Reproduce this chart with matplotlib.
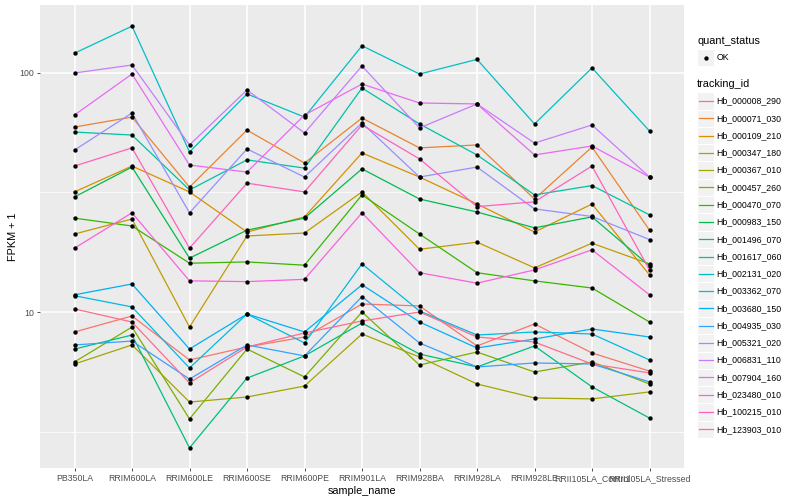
import matplotlib
matplotlib.use('Agg')
import matplotlib.pyplot as plt
from matplotlib.patches import Rectangle
from matplotlib.ticker import NullFormatter

plt.rcParams['font.family'] = ['Liberation Sans', 'DejaVu Sans']

# --- dados (FPKM + 1) ---
samples = ['PB350LA', 'RRIM600LA', 'RRIM600LE', 'RRIM600SE', 'RRIM600PE',
           'RRIM901LA', 'RRIM928BA', 'RRIM928LA', 'RRIM928LE',
           'RRII105LA_Control', 'RRII105LA_Stressed']

tracking_ids = ['Hb_000008_290', 'Hb_000071_030', 'Hb_000109_210', 'Hb_000347_180',
                'Hb_000367_010', 'Hb_000457_260', 'Hb_000470_070', 'Hb_000983_150',
                'Hb_001496_070', 'Hb_001617_060', 'Hb_002131_020', 'Hb_003362_070',
                'Hb_003680_150', 'Hb_004935_030', 'Hb_005321_020', 'Hb_006831_110',
                'Hb_007904_160', 'Hb_023480_010', 'Hb_100215_010', 'Hb_123903_010']

hb_000008_290 = [8.25, 9.62, 6.30, 7.14, 7.86, 10.8, 10.6, 7.21, 8.91, 6.74, 5.66]
hb_000071_030 = [59.4, 65.4, 33.3, 57.7, 42.0, 64.8, 48.6, 50.0, 29.7, 49.0, 22.0]
hb_000109_210 = [31.8, 40.8, 31.8, 21.6, 25.0, 46.3, 36.7, 28.3, 21.6, 28.3, 14.3]
hb_000347_180 = [21.2, 24.5, 8.65, 20.8, 21.4, 31.8, 18.3, 19.6, 15.3, 19.4, 15.9]
hb_000367_010 = [6.06, 7.28, 4.20, 4.41, 4.90, 8.09, 6.48, 5.00, 4.37, 4.33, 4.63]
hb_000457_260 = [6.18, 8.65, 3.57, 7.00, 5.35, 10.0, 6.00, 6.80, 5.61, 6.18, 5.00]
hb_000470_070 = [24.7, 22.9, 16.0, 16.2, 15.7, 30.9, 21.2, 14.6, 13.5, 12.6, 9.08]
hb_000983_150 = [30.3, 40.4, 16.8, 22.0, 24.7, 39.7, 29.7, 26.2, 22.5, 25.0, 15.6]
hb_001496_070 = [7.00, 8.01, 2.70, 5.29, 6.55, 8.99, 6.67, 5.89, 7.21, 4.86, 3.60]
hb_001617_060 = [56.6, 55.0, 32.4, 43.3, 40.0, 86.5, 61.2, 45.4, 30.9, 33.8, 25.5]
hb_002131_020 = [121, 157, 46.7, 81.7, 65.4, 130, 99.0, 114, 61.2, 105, 57.2]
hb_003362_070 = [11.7, 10.5, 5.83, 9.81, 7.42, 15.9, 10.1, 8.01, 8.25, 8.09, 6.30]
hb_003680_150 = [11.8, 13.1, 7.00, 9.81, 8.25, 13.0, 9.08, 7.07, 7.71, 8.49, 7.86]
hb_004935_030 = [7.28, 7.56, 5.24, 7.28, 6.55, 11.6, 7.42, 5.89, 6.12, 6.06, 5.10]
hb_005321_020 = [47.6, 68.0, 26.0, 48.1, 36.7, 61.8, 36.7, 40.4, 27.0, 25.1, 20.1]
hb_006831_110 = [100, 108, 50.0, 84.9, 56.1, 107, 58.9, 74.2, 50.9, 60.6, 36.7]
hb_007904_160 = [66.7, 99.0, 41.2, 38.5, 66.7, 89.9, 74.9, 74.2, 45.4, 49.5, 36.7]
hb_023480_010 = [18.5, 26.0, 13.5, 13.4, 13.7, 26.0, 14.6, 13.2, 15.0, 18.2, 11.8]
hb_100215_010 = [40.8, 48.6, 18.5, 34.6, 31.8, 60.6, 43.7, 27.6, 28.9, 40.8, 15.0]
hb_123903_010 = [10.3, 9.08, 5.05, 7.14, 8.17, 9.17, 10.0, 7.86, 7.49, 6.06, 5.56]

series = [hb_000008_290, hb_000071_030, hb_000109_210, hb_000347_180, hb_000367_010,
          hb_000457_260, hb_000470_070, hb_000983_150, hb_001496_070, hb_001617_060,
          hb_002131_020, hb_003362_070, hb_003680_150, hb_004935_030, hb_005321_020,
          hb_006831_110, hb_007904_160, hb_023480_010, hb_100215_010, hb_123903_010]

# paleta hue do ggplot (20 niveis)
cores = ['#F8766D', '#EA8331', '#D89000', '#C09B00', '#A3A500', '#7CAE00', '#39B600',
         '#00BB4E', '#00BF7D', '#00C1A3', '#00BFC4', '#00BAE0', '#00B0F6', '#35A2FF',
         '#9590FF', '#C77CFF', '#E76BF3', '#FA62DB', '#FF62BC', '#FF6C91']

# --- grafico ---
fig = plt.figure(figsize=(8, 5), dpi=100)
ax = fig.add_axes([40 / 800, 32 / 500, 644 / 800, 463 / 500])
ax.set_facecolor('#EBEBEB')
ax.set_yscale('log')

x = range(len(samples))
for vals, cor in zip(series, cores):
    ax.plot(x, vals, color=cor, lw=0.9, zorder=2)
for vals in series:
    ax.scatter(x, vals, s=10, color='black', zorder=3, linewidths=0)

ax.set_xlim(-0.6, len(samples) - 0.4)
ax.set_ylim(2.225, 192.5)
ax.set_xticks(list(x))
ax.set_xticklabels(samples)
ax.set_yticks([10, 100])
ax.set_yticklabels(['10', '100'])
ax.set_yticks([10 ** 0.5, 10 ** 1.5], minor=True)
ax.yaxis.set_minor_formatter(NullFormatter())

for s in ax.spines.values():
    s.set_visible(False)
ax.grid(True, which='major', color='white', lw=1.1)
ax.grid(True, which='minor', axis='y', color='white', lw=0.55)
ax.set_axisbelow(True)
ax.tick_params(which='major', labelsize=6.3, labelcolor='#4D4D4D', color='#333333',
               length=2.2, width=0.6, pad=2)
ax.tick_params(which='minor', length=0)

ax.set_xlabel('sample_name', fontsize=7.8, labelpad=2)
ax.set_ylabel('FPKM + 1', fontsize=7.8, labelpad=1)

# --- legendas (desenhadas a mao, estilo ggplot) ---
lax = fig.add_axes([0, 0, 1, 1])
lax.set_xlim(0, 800)
lax.set_ylim(500, 0)
lax.axis('off')

lax.text(697, 40.5, 'quant_status', fontsize=7.8, va='center', ha='left')
lax.add_patch(Rectangle((697, 49), 17, 17, fc='#F2F2F2', ec='white', lw=0.8))
lax.scatter([705.5], [57.5], s=10, color='black', linewidths=0)
lax.text(716.5, 57.5, 'OK', fontsize=6.3, va='center', ha='left')

lax.text(697, 84, 'tracking_id', fontsize=7.8, va='center', ha='left')
passo = 17.28
for i, (nome, cor) in enumerate(zip(tracking_ids, cores)):
    yc = 101 + passo * i
    lax.add_patch(Rectangle((697, yc - passo / 2), 17, passo, fc='#F2F2F2', ec='white', lw=0.8))
    lax.plot([698.5, 712.5], [yc, yc], color=cor, lw=0.9)
    lax.text(716.5, yc, nome, fontsize=6.3, va='center', ha='left')

plt.savefig('out.png', dpi=100)
